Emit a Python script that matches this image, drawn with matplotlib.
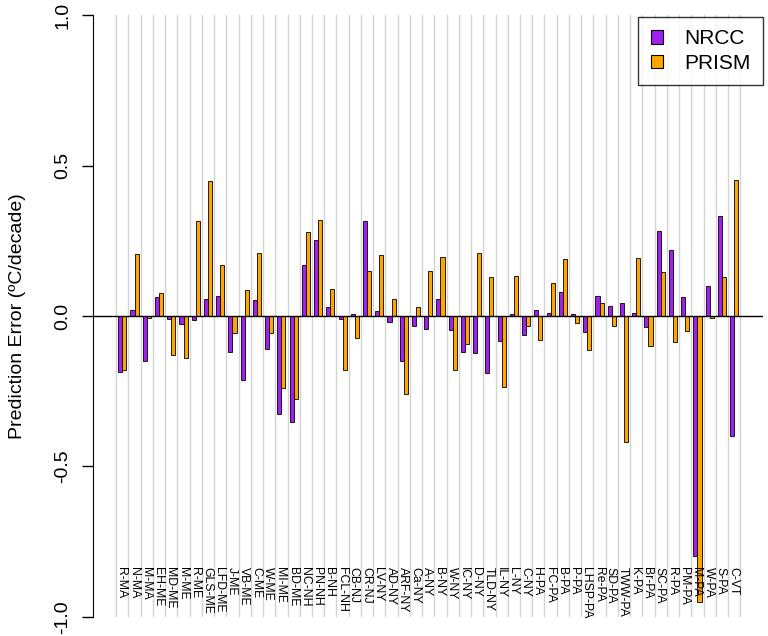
import numpy as np
import matplotlib
matplotlib.use("Agg")
import matplotlib.pyplot as plt
from matplotlib.patches import Patch

plt.rcParams['font.family'] = ['Liberation Sans', 'DejaVu Sans']

stations = ["R-MA", "N-MA", "M-MA", "EH-ME", "MD-ME", "M-ME", "R-ME", "GLS-ME",
            "LFD-ME", "J-ME", "VB-ME", "C-ME", "W-ME", "MI-ME", "BD-ME", "NC-NH",
            "PN-NH", "B-NH", "FCL-NH", "CB-NJ", "CR-NJ", "LV-NY", "AD-NY", "ARF-NY",
            "Ca-NY", "A-NY", "B-NY", "W-NY", "IC-NY", "D-NY", "TLD-NY", "IL-NY",
            "L-NY", "C-NY", "H-PA", "FC-PA", "B-PA", "P-PA", "LHSP-PA", "Re-PA",
            "SD-PA", "TWW-PA", "K-PA", "Br-PA", "SC-PA", "R-PA", "PM-PA", "M-PA",
            "W-PA", "S-PA", "C-VT"]

nrcc = [-0.186, 0.020, -0.149, 0.062, -0.010, -0.028, -0.014, 0.055,
        0.065, -0.119, -0.213, 0.054, -0.108, -0.325, -0.352, 0.171,
        0.253, 0.029, -0.009, 0.008, 0.315, 0.017, -0.020, -0.151,
        -0.032, -0.043, 0.055, -0.048, -0.119, -0.124, -0.191, -0.082,
        0.007, -0.063, 0.021, 0.011, 0.080, 0.007, -0.052, 0.067,
        0.034, 0.042, 0.011, -0.036, 0.282, 0.218, 0.064, -0.797,
        0.098, 0.332, -0.399]

prism = [-0.180, 0.205, -0.005, 0.078, -0.130, -0.141, 0.317, 0.447,
         0.169, -0.055, 0.088, 0.208, -0.056, -0.239, -0.277, 0.280,
         0.319, 0.090, -0.180, -0.074, 0.151, 0.201, 0.055, -0.258,
         0.029, 0.148, 0.197, -0.181, -0.094, 0.210, 0.129, -0.236,
         0.134, -0.033, -0.080, 0.109, 0.191, -0.023, -0.113, 0.043,
         -0.034, -0.419, 0.192, -0.100, 0.146, -0.088, -0.050, -0.950,
         -0.006, 0.128, 0.452]

purple = "#A020F0"
orange = "#FFA500"

n = len(stations)
left = np.arange(n) * 3 + 1  # R-style beside barplot: space=c(0,1)

fig = plt.figure(figsize=(7.68, 6.36), dpi=100)
ax = fig.add_axes([0.1217, 0.0299, 0.8718, 0.9465])

# grey separators between groups
for xv in np.arange(n + 1) * 3 + 0.5:
    ax.axvline(xv, color="#d3d3d3", lw=1, zorder=0)

ax.bar(left, nrcc, width=1, align="edge", color=purple, edgecolor="black",
       linewidth=0.6, zorder=2)
ax.bar(left + 1, prism, width=1, align="edge", color=orange, edgecolor="black",
       linewidth=0.6, zorder=2)
ax.axhline(0, color="black", lw=1, zorder=3)

for x, s in zip(left + 0.75, stations):
    ax.text(x, -0.835, s, rotation=270, ha="center", va="top", fontsize=8.8,
            zorder=4)

span = 152
ax.set_xlim(1 - 0.04 * span, 153 + 0.04 * span)
ax.set_ylim(-1.0, 1.0)
ax.set_yticks([-1.0, -0.5, 0.0, 0.5, 1.0])
ax.set_yticklabels(["-1.0", "-0.5", "0.0", "0.5", "1.0"], rotation=90,
                   va="center", fontsize=14)
ax.tick_params(axis="y", length=8, width=1, pad=8)
ax.set_xticks([])
for s in ["top", "right", "bottom"]:
    ax.spines[s].set_visible(False)
ax.spines["left"].set_bounds(-1.0, 1.0)
ax.set_ylabel("Prediction Error (ºC/decade)", fontsize=14, labelpad=20)

handles = [Patch(facecolor=purple, edgecolor="black", linewidth=0.8),
           Patch(facecolor=orange, edgecolor="black", linewidth=0.8)]
leg = ax.legend(handles, ["NRCC", "PRISM"], loc="upper right", fontsize=15,
                frameon=True, fancybox=False, edgecolor="black",
                handlelength=0.6, handleheight=0.6, handletextpad=1.0,
                borderpad=0.6, labelspacing=0.25, borderaxespad=0,
                bbox_to_anchor=(1.0, 0.997))
leg.get_frame().set_linewidth(1)

fig.savefig("out.png", dpi=100)
